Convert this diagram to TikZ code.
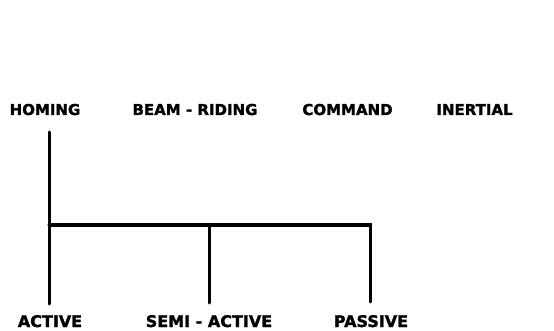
\documentclass[tikz,border=0pt]{standalone}
\usepackage{fontspec}
\setmainfont[BoldFeatures={FakeBold=1.6}]{DejaVu Sans}
\begin{document}
\begin{tikzpicture}[x=1pt,y=-1pt,
  toplabel/.style={font=\bfseries\fontsize{15}{15}\selectfont, inner sep=0pt, anchor=base},
  botlabel/.style={font=\bfseries\fontsize{16}{16}\selectfont, inner sep=0pt, anchor=base},
  tree/.style={line width=3pt, line cap=round, line join=miter}]
\useasboundingbox (0,0) rectangle (554,331);
\node[toplabel] (homing) at (45,115) {HOMING};
\node[toplabel] (beam) at (195,115) {BEAM - RIDING};
\node[toplabel] (command) at (347.5,115) {COMMAND};
\node[toplabel] (inertial) at (474.5,115) {INERTIAL};
\node[botlabel] (active) at (50,327) {ACTIVE};
\node[botlabel] (semi) at (209,327) {SEMI - ACTIVE};
\node[botlabel] (passive) at (371,327) {PASSIVE};
\coordinate (htop) at (49,132);
\coordinate (j1) at (49,225);
\coordinate (j2) at (209,225);
\coordinate (j3) at (370,225);
\coordinate (aend) at (49,304);
\coordinate (send) at (209,303);
\coordinate (pend) at (370,302);
\draw[tree] (htop) -- (j1) -- (aend);
\draw[tree] (j1) -- (j2) -- (j3) -- (pend);
\draw[tree] (j2) -- (send);
\end{tikzpicture}
\end{document}
